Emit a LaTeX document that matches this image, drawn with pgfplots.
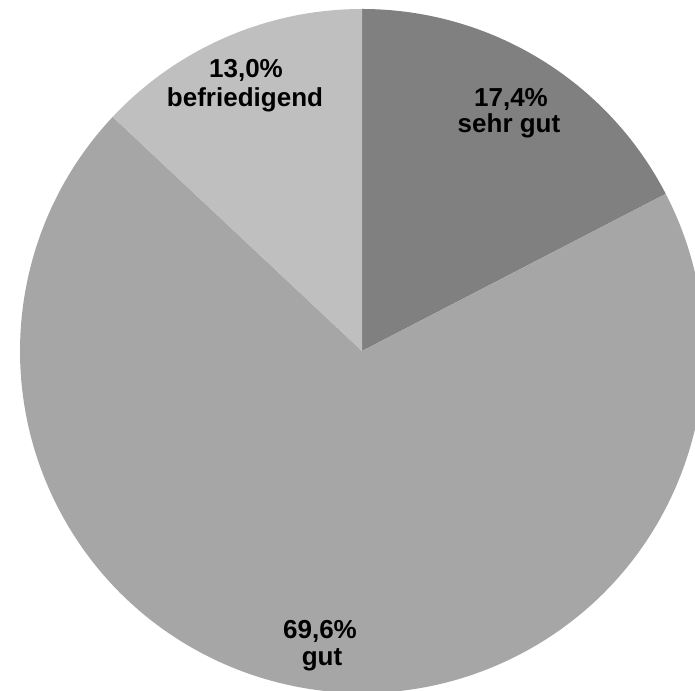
\documentclass[border=0pt]{standalone}
\usepackage{fontspec}
\setmainfont{Liberation Sans}
\usepackage{pgfplots}
\pgfplotsset{compat=1.18}
\definecolor{cA}{HTML}{808080}
\definecolor{cB}{HTML}{A6A6A6}
\definecolor{cC}{HTML}{BFBFBF}
\tikzset{lbl/.style={anchor=base, inner sep=0pt, font=\fontsize{26}{29}\selectfont\bfseries, text=black}}
% shares in percent
\def\vA{17.4}\def\vB{69.6}\def\vC{13.0}
\pgfmathsetmacro{\sA}{90}
\pgfmathsetmacro{\eA}{\sA-\vA*3.6}
\pgfmathsetmacro{\eB}{\eA-\vB*3.6}
\pgfmathsetmacro{\eC}{\eB-\vC*3.6}
\begin{document}
\begin{tikzpicture}
\begin{axis}[hide axis, scale only axis, width=695pt, height=690pt,
  xmin=0, xmax=695, ymin=0, ymax=690, clip=true]
\fill[cA] (axis cs:362,339) -- ++(\sA:342pt) arc[start angle=\sA, end angle=\eA, radius=342pt] -- cycle;
\fill[cB] (axis cs:362,339) -- ++(\eA:342pt) arc[start angle=\eA, end angle=\eB, radius=342pt] -- cycle;
\fill[cC] (axis cs:362,339) -- ++(\eB:342pt) arc[start angle=\eB, end angle=\eC, radius=342pt] -- cycle;
\node[lbl] at (axis cs:511,583) {17,4\%};
\node[lbl] at (axis cs:509,557) {sehr gut};
\node[lbl] at (axis cs:246,612) {13,0\%};
\node[lbl] at (axis cs:245,583) {befriedigend};
\node[lbl] at (axis cs:320,52) {69,6\%};
\node[lbl] at (axis cs:322,25) {gut};
\end{axis}
\pgfresetboundingbox
\useasboundingbox (current axis.south west) rectangle (current axis.north east);
\end{tikzpicture}
\end{document}
